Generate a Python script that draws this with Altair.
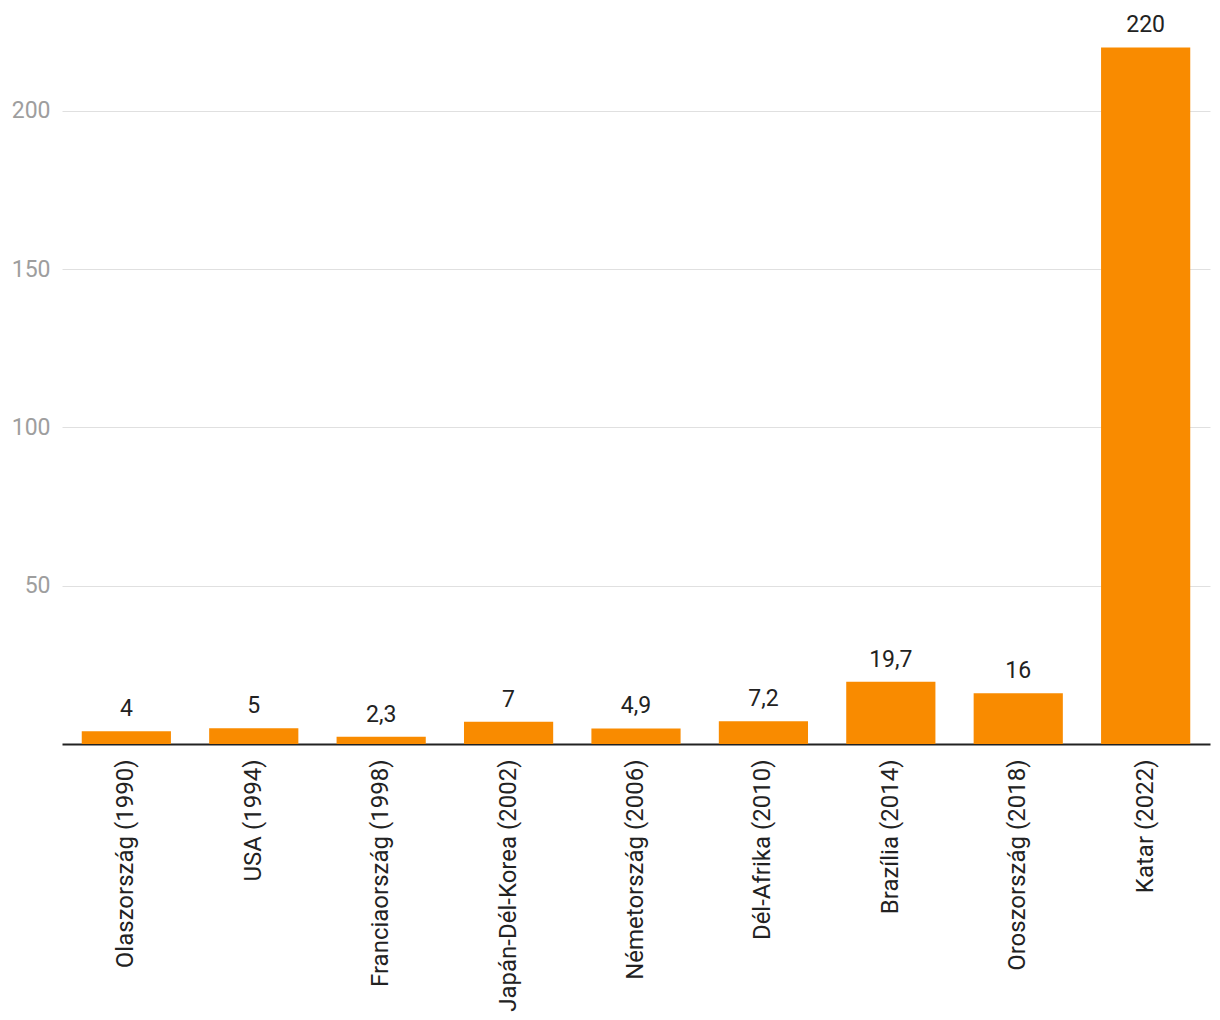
import altair as alt
import pandas as pd

categories = ["Olaszország (1990)", "USA (1994)", "Franciaország (1998)",
              "Japán-Dél-Korea (2002)", "Németország (2006)", "Dél-Afrika (2010)",
              "Brazília (2014)", "Oroszország (2018)", "Katar (2022)"]
values = [4, 5, 2.3, 7, 4.9, 7.2, 19.7, 16, 220]
labels = ["4", "5", "2,3", "7", "4,9", "7,2", "19,7", "16", "220"]

df = pd.DataFrame({"cat": categories, "val": values, "lab": labels})

FS = 23

x = alt.X("cat:N", sort=categories, title=None,
          scale=alt.Scale(paddingInner=0.3, paddingOuter=0.155),
          axis=alt.Axis(labelAngle=-90, labelAlign="right", labelBaseline="middle",
                        labelFontSize=24, labelColor="#222222", labelFont="Roboto",
                        labelPadding=15, ticks=False, domainColor="#222222",
                        domainWidth=2, grid=False, labelLimit=400))
y = alt.Y("val:Q", title=None, scale=alt.Scale(domain=[0, 235], nice=False),
          axis=alt.Axis(values=[50, 100, 150, 200], labelFontSize=FS,
                        labelColor="#9e9e9e", labelFont="Roboto", labelPadding=12,
                        ticks=False, domain=False, gridColor="#e0e0e0", gridWidth=1))

bars = alt.Chart(df).mark_bar(color="#F98B00").encode(x=x, y=y)
text = alt.Chart(df).mark_text(fontSize=FS, font="Roboto", color="#222222",
                               baseline="alphabetic", dy=-15).encode(
    x=alt.X("cat:N", sort=categories), y="val:Q", text="lab:N")

chart = (bars + text).properties(
    width=1148, height=744,
    autosize=alt.AutoSizeParams(type="none"),
    padding={"left": 62, "top": 0, "right": 10, "bottom": 276},
).configure(background="white").configure_view(strokeWidth=0, stroke="transparent")

chart.save("out.html", embed_options={"renderer": "svg", "actions": False})
